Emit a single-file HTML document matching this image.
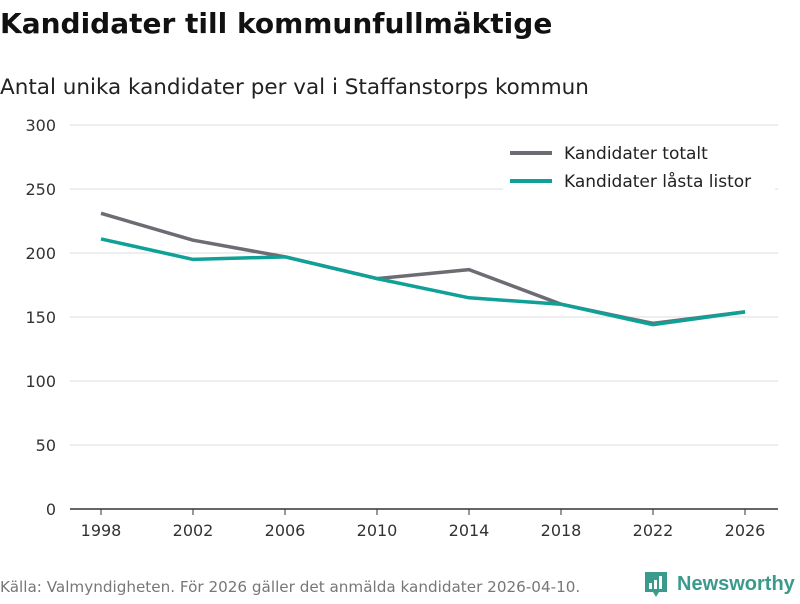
<!DOCTYPE html>
<html><head><meta charset="utf-8"><style>
body{margin:0;background:#fff;width:800px;height:600px;overflow:hidden;font-family:"DejaVu Sans","Liberation Sans",sans-serif;}
</style></head><body>
<svg id="c" width="800" height="600" xmlns="http://www.w3.org/2000/svg">
<text x="0" y="33" font-size="28" font-weight="bold" fill="#111">Kandidater till kommunfullmäktige</text>
<text x="0" y="94" font-size="21.5" fill="#222">Antal unika kandidater per val i Staffanstorps kommun</text>
<g id="grid"></g><g id="xaxis"></g><g id="lines"></g>
<g>
<rect x="503" y="135" width="272" height="65" fill="#fff"/>
<line x1="510" y1="153" x2="552" y2="153" stroke="#6d6c72" stroke-width="4"/>
<text x="564" y="159" font-size="17" fill="#222">Kandidater totalt</text>
<line x1="510" y1="181" x2="552" y2="181" stroke="#0fa197" stroke-width="4"/>
<text x="564" y="187" font-size="17" fill="#222">Kandidater låsta listor</text>
</g>
<text x="0" y="592" font-size="15.2" fill="#777">Källa: Valmyndigheten. För 2026 gäller det anmälda kandidater 2026-04-10.</text>
<g>
<path d="M645 572 h22 v20 h-8 l-3 5 l-3 -5 h-8 z" fill="#3a9a8c"/>
<rect x="649" y="583" width="3" height="6" fill="#fff"/><rect x="654" y="580" width="3" height="9" fill="#fff"/><rect x="659" y="576" width="3" height="13" fill="#fff"/>
<text x="677" y="590" font-size="20" font-weight="bold" fill="#3a9a8c" font-family="Liberation Sans, sans-serif">Newsworthy</text>
</g>
</svg>
<script>
const years=[1998,2002,2006,2010,2014,2018,2022,2026];
const totalt=[231,210,197,180,187,160,145,154];
const lasta=[211,195,197,180,165,160,144,154];
const yTicks=[0,50,100,150,200,250,300];
const NS="http://www.w3.org/2000/svg";
const x=v=>101+(v-1998)*(644/28);
const y=v=>509-v*1.28;
function mk(t,a,p){const e=document.createElementNS(NS,t);for(const k in a)e.setAttribute(k,a[k]);p.appendChild(e);return e;}
const g=document.getElementById('grid');
yTicks.forEach(t=>{
 if(t>0){const l=mk('line',{x1:70,x2:778,y1:y(t),y2:y(t),stroke:'#ddd','stroke-width':1},g);
 
 }
 const tx=mk('text',{x:56,y:y(t)+6,'font-size':16,fill:'#333','text-anchor':'end'},g);tx.textContent=t;
 
 
});
const xa=document.getElementById('xaxis');
const ax=mk('line',{x1:70,x2:778,y1:509,y2:509,stroke:'#333','stroke-width':1.5},xa);


years.forEach(yr=>{
 mk('line',{x1:x(yr),x2:x(yr),y1:509,y2:515,stroke:'#333'},xa);
 const tx=mk('text',{x:x(yr),y:536,'font-size':16,fill:'#333','text-anchor':'middle'},xa);tx.textContent=yr;
 
 
});
const L=document.getElementById('lines');
[[totalt,'#6d6c72','line-totalt'],[lasta,'#0fa197','line-lasta']].forEach(([d,c,n])=>{
 const p=mk('polyline',{points:d.map((v,i)=>x(years[i])+','+y(v)).join(' '),fill:'none',stroke:c,'stroke-width':3.5,'stroke-linejoin':'round'},L);
 
 
});
</script>
</body></html>
